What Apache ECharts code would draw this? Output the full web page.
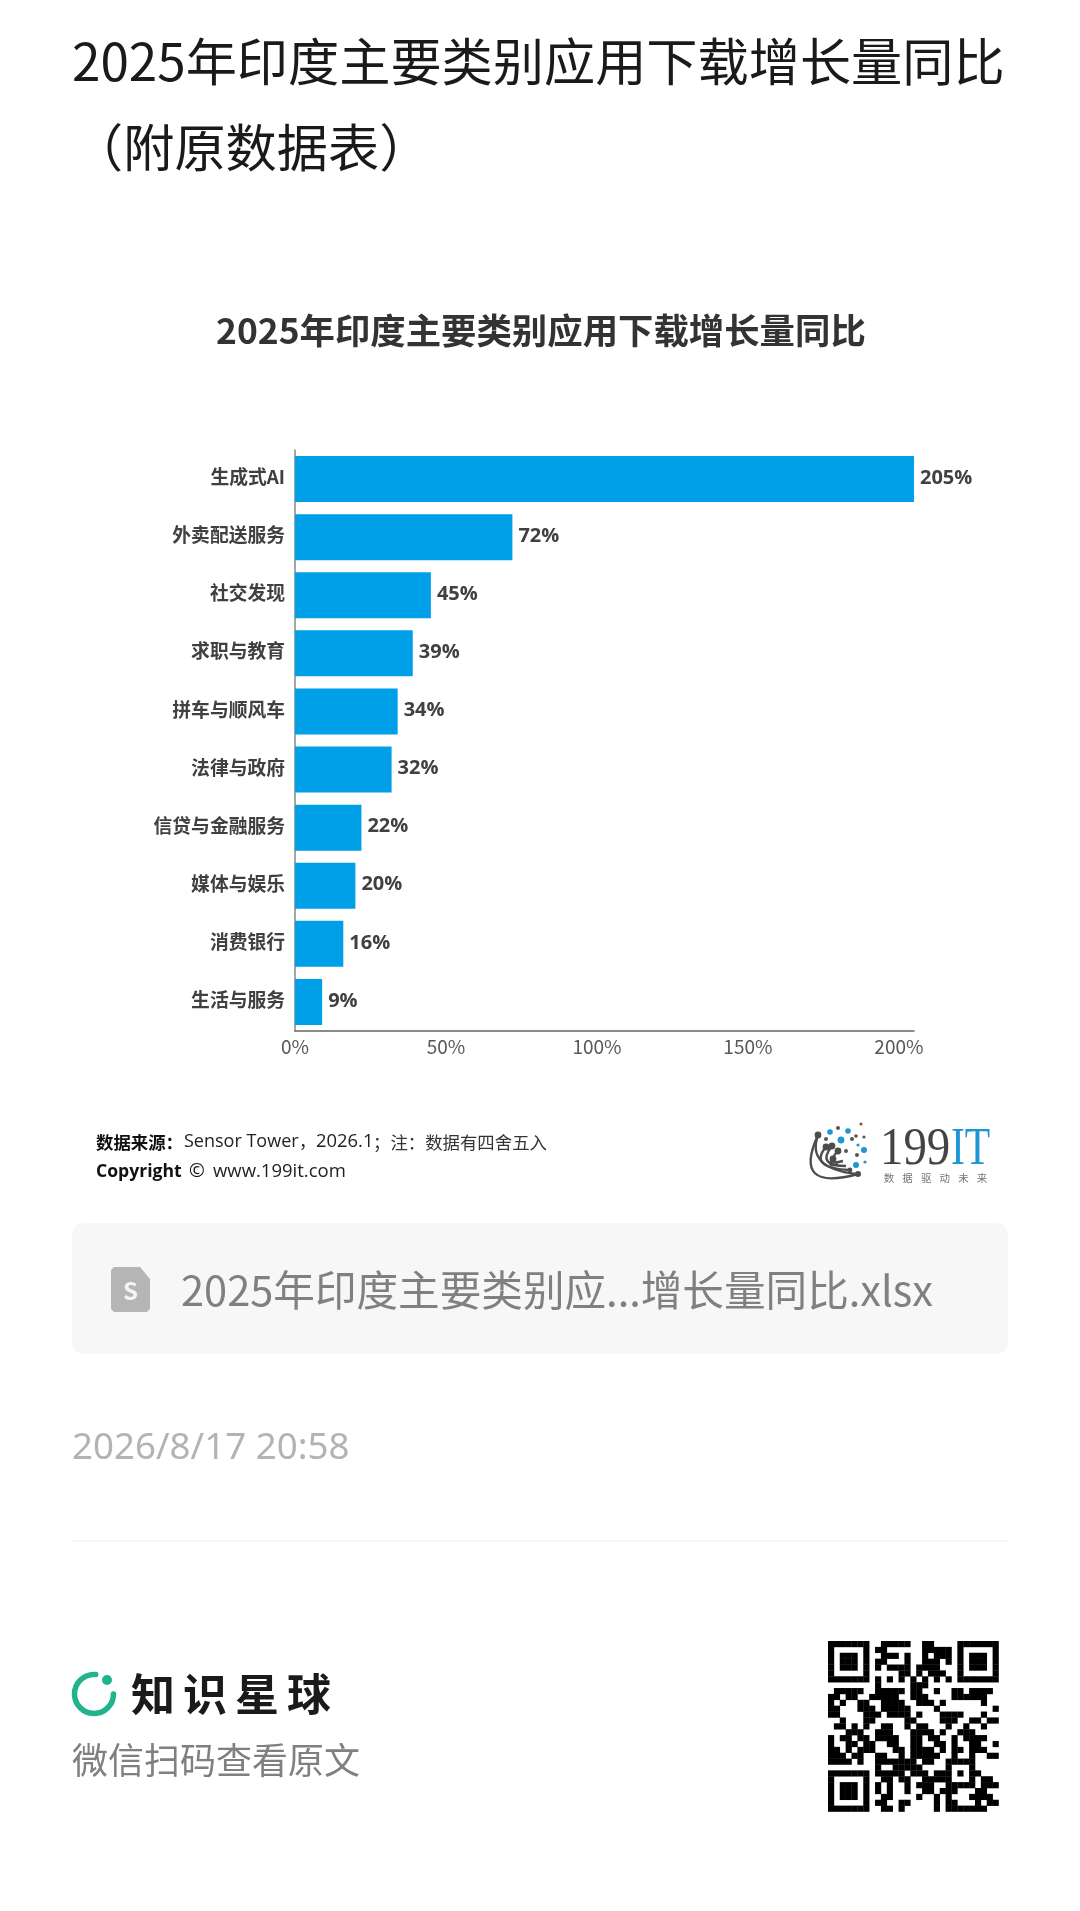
<!DOCTYPE html>
<html>
<head>
<meta charset="utf-8">
<style>html,body{margin:0;padding:0;background:#fff}#c{width:1080px;height:1911px}</style>
<script src="https://cdn.jsdelivr.net/npm/echarts@6/dist/echarts.min.js"></script>
</head>
<body>
<div id="c"></div>
<script>
var categories = ['生成式AI','外卖配送服务','社交发现','求职与教育','拼车与顺风车','法律与政府','信贷与金融服务','媒体与娱乐','消费银行','生活与服务'];
var growth = [205,72,45,39,34,32,22,20,16,9];
var pageTitle = ['2025年印度主要类别应用下载增长量同比','（附原数据表）'];
var chartTitle = '2025年印度主要类别应用下载增长量同比';
var fileName = '2025年印度主要类别应...增长量同比.xlsx';
var stamp = '2026/8/17 20:58';
var qrRows = [
'1111111 0 0111110011000 0 1111111',
'1000001 0 1100000011111 0 1000001',
'1011101 0 0111010010111 0 1011101',
'1011101 0 1100010011101 0 1011101',
'1011101 0 1011110111100 0 1011101',
'1000001 0 0000110101110 0 1000001',
'1111111 0 1010101010101 0 1111111',
'0000000 0 1000001110000 0 0000000',
'0 11111 00 11111 0 11 00 1 00 11 0 1111 0',
'11 0 11 00 11111 00 111 0000 111111 00',
'1 0 1 00 11 00 1111 00 111 0 1 000000 1 00',
'11 000 111 0 11111 0000 1 000000000 1',
'11 0000 111 0 1111 0 1 000 1111 000 1 00',
'00 1 000 11 00000 11 0000 111 00 11 0 11',
'0 11 0 1 0 1 00 11 00 1 0 11 000 1 00 1 00 1 00',
'000 111 00 111 000 1111 0 1 00 111 0000',
'1 0 11 0 11 0 1111 00 11 0 11 00 1 0 1111 00',
'1 00 11 0 11 00 11 00 11 00 11 0 1 00 11 00 1',
'11 0 1 0 111 000 11 0 1111 0 1 0 11 0 111 00',
'111 0 11 00 11 00 1 0 11111 00 1 00 1 00 11',
'1111 0 1 00 1111111 0 11 00 11111 0000',
'00000000 1 00 11111 0000 1 000 1 0000',
'1111111 0 11111 0 111 0 11 1 0 1 0 1 1 000',
'1000001 0 0 11 0 11 00 1111 1 000 1 0 11 0',
'1011101 0 1 0 1 00 1 0 111 00 11111 0 111',
'1011101 0 1 0 1 00 1 00 11 0 111 000 11 00',
'1011101 0 0 11 0000 1 00 1 0 1 000 1111 0',
'1000001 0 11 00 11 0000 1 0 11 000 1 0 11',
'1111111 0 0 11 0 1 00000 1 0 1111111 00'
];

var FONT = '"Noto Sans CJK SC","Noto Sans",sans-serif';
var el = [];
function txt(t, x, y, size, fill, weight, align, family) {
  el.push({type:'text', silent:true, style:{text:t, x:x, y:y, fill:fill, textAlign:align||'left', textVerticalAlign:'middle',
    font:(weight||'normal')+' '+size+'px '+(family||FONT)}});
}

// page heading
txt(pageTitle[0], 72, 62, 51.2, '#1a1a1a');
txt(pageTitle[1], 72, 148, 51.2, '#1a1a1a');

// source lines
var OS = '"Open Sans","Noto Sans CJK SC",sans-serif';
txt('数据来源：', 96, 1142, 17.4, '#111', 'bold');
txt('Sensor Tower', 184, 1142, 18, '#222', 'normal', 'left', OS);
txt('，', 299, 1142, 17, '#222');
txt('2026.1', 316, 1142, 18.4, '#222', 'normal', 'left', OS);
txt('；注：数据有四舍五入', 373, 1142, 17.4, '#333');
txt('Copyright', 96, 1172, 17.6, '#111', 'bold', 'left', OS);
txt('©', 189, 1172, 19, '#111', 'normal', 'left', OS);
txt('www.199it.com', 213, 1172, 18.5, '#222', 'normal', 'left', OS);

// 199IT logo
var arcs = [[818,1135,806,1168,856,1174],[826,1147,808,1168,850,1170],[832,1146,816,1166,846,1166],[838,1151,824,1166,843,1161],[833,1159,826,1168,838,1164]];
arcs.forEach(function(a){
  el.push({type:'bezierCurve', silent:true, shape:{x1:a[0],y1:a[1],cpx1:a[2],cpy1:a[3],x2:a[4],y2:a[5]}, style:{stroke:'#4d4d4d',lineWidth:2.4,fill:'none'}});
  el.push({type:'circle', silent:true, shape:{cx:a[0],cy:a[1],r:3.4}, style:{fill:'#4d4d4d'}});
});
el.push({type:'bezierCurve', silent:true, shape:{x1:818,y1:1135,cpx1:792,cpy1:1192,x2:858,y2:1174}, style:{stroke:'#4d4d4d',lineWidth:2.4,fill:'none'}});
[[830,1132,2.8,'#1f95d6'],[848,1131,2.8,'#1f95d6'],[841,1140,3.4,'#1f95d6'],[864,1150,3,'#1f95d6'],[856,1165,3,'#1f95d6'],[865,1162,1.6,'#1f95d6'],[858,1145,1.6,'#1f95d6'],[838,1128,2,'#555'],[861,1124,1.6,'#7a5a4a'],[856,1136,1.8,'#555'],[852,1139,2,'#555'],[846,1151,2,'#555'],[857,1155,2,'#555'],[864,1137,1.6,'#555'],[826,1139,2,'#555'],[858,1174,3,'#4d4d4d'],[850,1170,2.4,'#4d4d4d']].forEach(function(d){
  el.push({type:'circle', silent:true, shape:{cx:d[0],cy:d[1],r:d[2]}, style:{fill:d[3]}});
});
el.push({type:'text', silent:true, x:880, y:1150, scaleX:0.9, style:{text:'199', x:0, y:0, fill:'#444', textVerticalAlign:'middle', font:'normal 52px "Liberation Serif",serif'}});
el.push({type:'text', silent:true, x:951, y:1150, scaleX:0.8, style:{text:'IT', x:0, y:0, fill:'#1f95d6', textVerticalAlign:'middle', font:'normal 52px "Liberation Serif",serif'}});
'数据驱动未来'.split('').forEach(function(ch,i){ txt(ch, 889+i*18.6, 1178, 10.5, '#777', 'normal', 'center'); });

// file card
el.push({type:'rect', silent:true, shape:{x:72,y:1223,width:936,height:131,r:12}, style:{fill:'#f7f7f7'}});
el.push({type:'polygon', silent:true, shape:{points:[[114,1267],[140,1267],[150,1279],[150,1309],[147,1312],[114,1312],[111,1309],[111,1270]]}, style:{fill:'#b5b5b5'}});
txt('S', 130.5, 1291, 24, '#f4f4f4', 'bold', 'center');
txt(fileName, 181, 1290, 41.6, '#808080');

// time and divider
txt(stamp, 72, 1449, 36.7, '#b3b3b3', 'normal', 'left', '"Noto Sans",sans-serif');
el.push({type:'line', silent:true, shape:{x1:72,y1:1541,x2:1008,y2:1541}, style:{stroke:'#eeeeee',lineWidth:1}});

// brand
el.push({type:'arc', silent:true, shape:{cx:94,cy:1694,r:19.5,startAngle:0,endAngle:275*Math.PI/180,clockwise:true}, style:{stroke:'#1fb38f',lineWidth:5.5,fill:'none',lineCap:'round'}});
el.push({type:'circle', silent:true, shape:{cx:107,cy:1680,r:5}, style:{fill:'#1fb38f'}});
'知识星球'.split('').forEach(function(ch,i){ txt(ch, 153+i*52, 1694, 44, '#1a1a1a', 'bold', 'center'); });
txt('微信扫码查看原文', 72, 1760, 36, '#808080');

// QR code
var QX = 828, QY = 1641, QM = 170.5/29;
qrRows.forEach(function(row,r){
  row.replace(/ /g,'').split('').forEach(function(v,c){
    if (v === '1') el.push({type:'rect', silent:true, shape:{x:QX+c*QM,y:QY+r*QM,width:QM+0.3,height:QM+0.3}, style:{fill:'#000'}});
  });
});

var chart = echarts.init(document.getElementById('c'), null, {renderer:'canvas'});
chart.setOption({
  animation:false,
  backgroundColor:'#fff',
  title:{text:chartTitle, left:211, top:308, textStyle:{fontSize:35.4, fontWeight:'bold', color:'#333', fontFamily:FONT}},
  grid:{left:295, top:450, width:619, height:581, containLabel:false},
  xAxis:{type:'value', min:0, max:205, interval:50,
    axisLine:{show:true, lineStyle:{color:'#666', width:1.5}}, axisTick:{show:false}, splitLine:{show:false},
    axisLabel:{showMaxLabel:false, margin:6, fontSize:19, color:'#595959', fontFamily:FONT, formatter:function(v){return v+'%';}}},
  yAxis:{type:'category', data:categories, inverse:true,
    axisLine:{show:true, lineStyle:{color:'#888', width:1.5}}, axisTick:{show:false},
    axisLabel:{margin:10, formatter:function(v){return '{a|'+v+'}';},
      rich:{a:{fontSize:18.8, fontWeight:'bold', color:'#404040', fontFamily:FONT, padding:[0,0,4,0]}}}},
  series:[{type:'bar', data:growth, barWidth:46, itemStyle:{color:'#00a0e9'},
    label:{show:true, position:'right', distance:6, offset:[0,-1], fontSize:20, fontWeight:'bold', color:'#404040', fontFamily:'"Open Sans",sans-serif', formatter:function(p){return p.value+'%';}}}],
  graphic:{elements:el}
});
</script>
</body>
</html>
